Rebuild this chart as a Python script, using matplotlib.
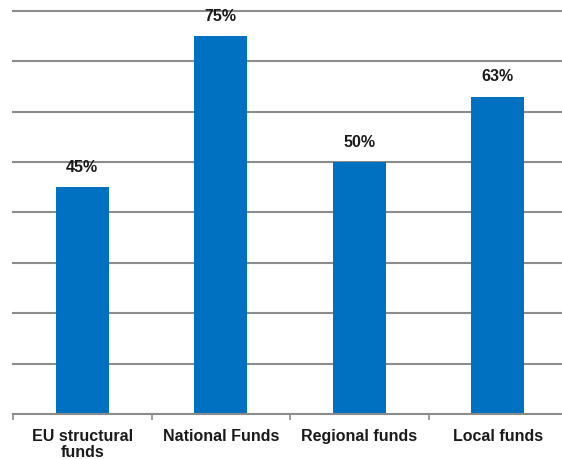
import matplotlib
matplotlib.use("Agg")
import matplotlib.pyplot as plt
from matplotlib.ticker import FixedLocator, NullFormatter

categories = ["EU structural\nfunds", "National Funds", "Regional funds", "Local funds"]
values = [45, 75, 50, 63]
value_labels = ["45%", "75%", "50%", "63%"]
gridlines = [10, 20, 30, 40, 50, 60, 70, 80]

plt.rcParams['font.family'] = ['Liberation Sans', 'DejaVu Sans']

W, H = 562, 459
fig = plt.figure(figsize=(W / 100, H / 100), dpi=100)
left, right, top, bottom = 13, 567, 11, 414
ax = fig.add_axes([left / W, 1 - bottom / H, (right - left) / W, (bottom - top) / H])

x = list(range(len(categories)))
ax.set_axisbelow(True)
for g in gridlines:
    ax.axhline(g, color="#8c8c8c", linewidth=1.5, zorder=0, clip_on=False)
bars = ax.bar(x, values, width=0.38, color="#0070C0", zorder=2)

for b, lab in zip(bars, value_labels):
    ax.annotate(lab, (b.get_x() + b.get_width() / 2, b.get_height()),
                xytext=(0, 9), textcoords="offset points",
                ha="center", va="bottom", fontsize=11.5, fontweight="bold", color="#1a1a1a")

ax.set_xlim(-0.5, len(categories) - 0.5)
ax.set_ylim(0, 80)
ax.set_yticks([])
for s in ["top", "right", "left"]:
    ax.spines[s].set_visible(False)
ax.spines["bottom"].set_color("#8c8c8c")
ax.spines["bottom"].set_linewidth(1.5)

ax.xaxis.set_major_locator(FixedLocator([i - 0.5 for i in range(len(categories) + 1)]))
ax.xaxis.set_major_formatter(NullFormatter())
ax.xaxis.set_minor_locator(FixedLocator(x))
ax.set_xticklabels(categories, minor=True, fontsize=11.5, fontweight="bold", color="#1a1a1a",
                   linespacing=1.08)
ax.tick_params(axis="x", which="major", length=4, width=1.2, color="#8c8c8c", direction="out")
ax.tick_params(axis="x", which="minor", length=0, pad=11)

fig.savefig("out.png", dpi=100)
